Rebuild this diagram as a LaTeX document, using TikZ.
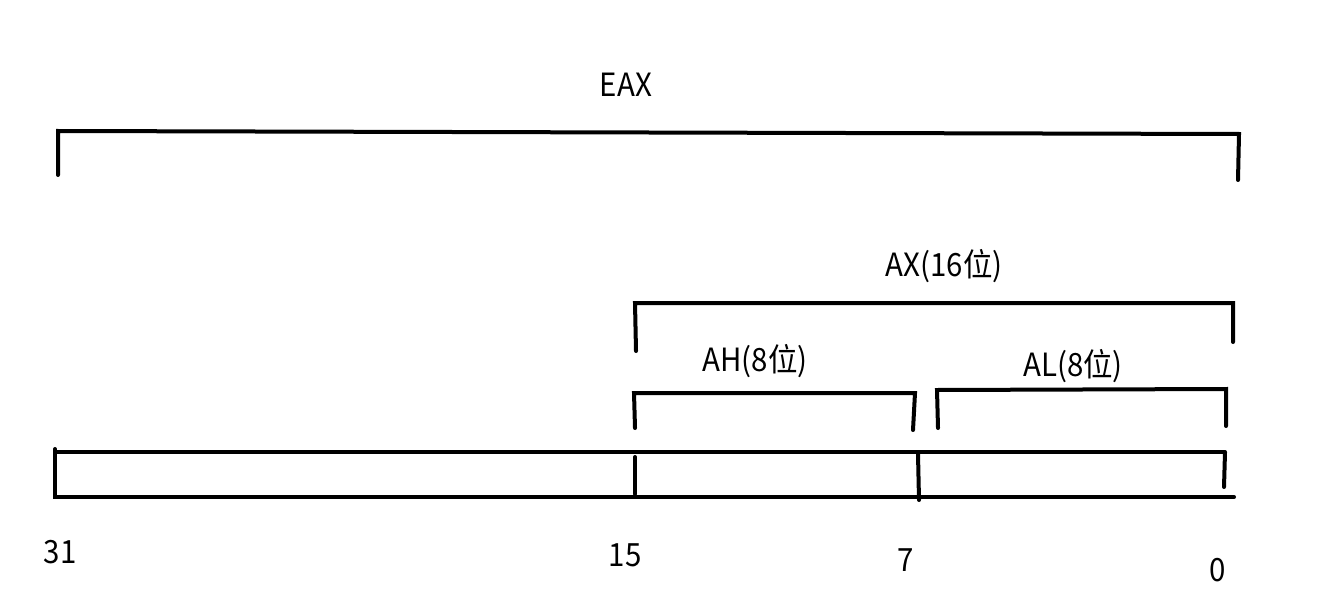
\documentclass[tikz,border=0pt]{standalone}
\usepackage{fontspec}
\setmainfont{Noto Sans CJK SC}
\newfontfamily\labfont[FakeStretch=0.92]{Noto Sans CJK SC}
\begin{document}
\begin{tikzpicture}[x=1pt,y=-1pt,
  stroke/.style={line width=4pt,line cap=round,line join=miter},
  lab/.style={font=\labfont\fontsize{32}{36}\selectfont,inner sep=0pt,anchor=center}]
\useasboundingbox (0,0) rectangle (1329,604);
% labels
\node[lab] (eax) at (626,85) {EAX};
\node[lab] (ax) at (944,266) {AX(16位)};
\node[lab] (ah) at (755,361) {AH(8位)};
\node[lab] (al) at (1073,366) {AL(8位)};
\node[lab] (n31) at (60,552) {31};
\node[lab] (n15) at (625,555) {15};
\node[lab] (n7) at (906,560) {7};
\node[lab] (n0) at (1218,570) {0};
% EAX bracket
\draw[stroke] (58,175) -- (58,131) -- (1239,134) -- (1238,180);
% AX bracket
\draw[stroke] (636,351) -- (635,303) -- (1233,303) -- (1233,342);
% AH bracket
\draw[stroke] (635,428) -- (634,393) -- (915,393) -- (913,430);
% AL bracket
\draw[stroke] (938,428) -- (937,390) -- (1226,389) -- (1226,426);
% register box
\draw[stroke] (55,449) -- (55,497) -- (1234,497);
\draw[stroke] (55,452) -- (1224,452);
\draw[stroke] (635,457) -- (635,494);
\draw[stroke] (918,454) -- (919,500);
\draw[stroke] (1225,452) -- (1224,487);
\end{tikzpicture}
\end{document}
